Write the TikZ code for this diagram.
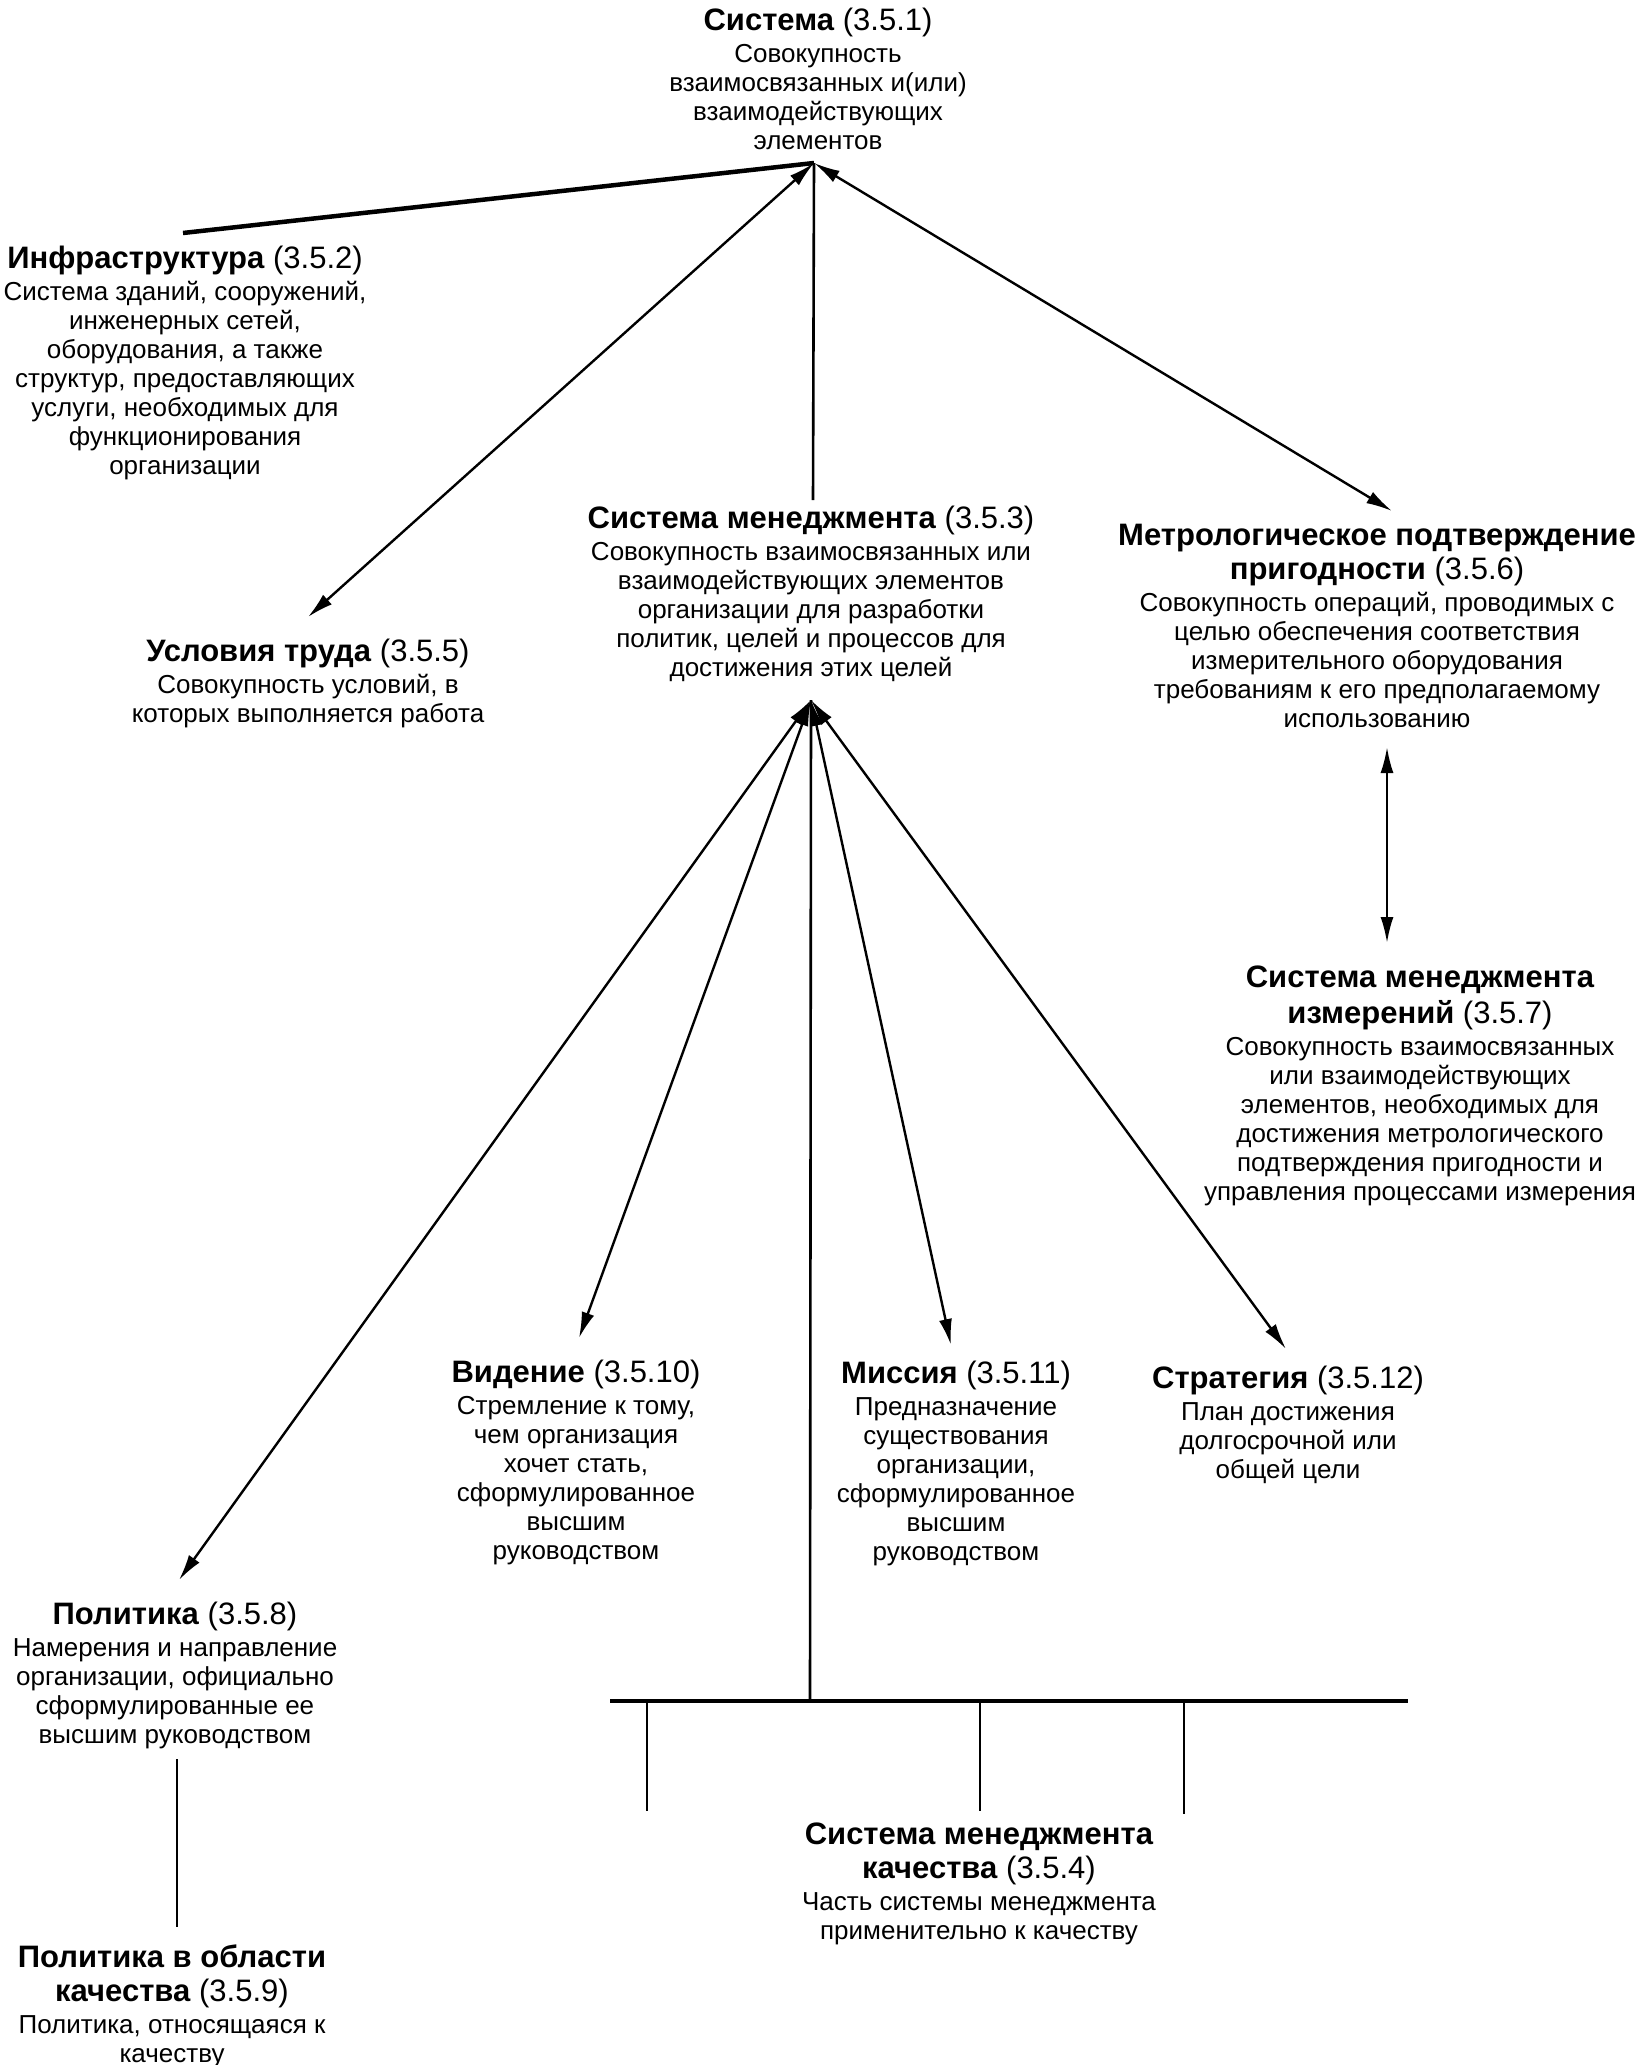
\documentclass[tikz,border=0pt]{standalone}
\usepackage{fontspec}
\setmainfont{Liberation Sans}
\usetikzlibrary{arrows.meta}
\newcommand\ttl[2]{{\fontsize{31}{34}\selectfont\textbf{#1}#2}}
\begin{document}
\begin{tikzpicture}[x=1pt,y=-1pt,
  txt/.style={anchor=north, inner sep=0pt, align=center, font=\fontsize{26}{29}\selectfont},
  ln/.style={line width=2.6pt},
  thick line/.style={line width=4.5pt},
  arr/.style={line width=2.4pt, -{Latex[length=26pt,width=13pt]}},
  darr/.style={line width=2.4pt, {Latex[length=26pt,width=13pt]}-{Latex[length=26pt,width=13pt]}},
]
\fill[white] (0,0) rectangle (1635,2065);
\useasboundingbox (0,0) rectangle (1635,2065);

\node[txt] (sys) at (818,8) {\ttl{Система}{ (3.5.1)}\\[3pt] Совокупность\\ взаимосвязанных и(или)\\ взаимодействующих\\ элементов};
\node[txt] (infra) at (185,246) {\ttl{Инфраструктура}{ (3.5.2)}\\[3pt] Система зданий, сооружений,\\ инженерных сетей,\\ оборудования, а также\\ структур, предоставляющих\\ услуги, необходимых для\\ функционирования\\ организации};
\node[txt] (usl) at (308,639) {\ttl{Условия труда}{ (3.5.5)}\\[3pt] Совокупность условий, в\\ которых выполняется работа};
\node[txt] (sm) at (811,506) {\ttl{Система менеджмента}{ (3.5.3)}\\[3pt] Совокупность взаимосвязанных или\\ взаимодействующих элементов\\ организации для разработки\\ политик, целей и процессов для\\ достижения этих целей};
\node[txt] (metr) at (1377,524) {\ttl{Метрологическое подтверждение}{}\\[5pt] \ttl{пригодности}{ (3.5.6)}\\[3pt] Совокупность операций, проводимых с\\ целью обеспечения соответствия\\ измерительного оборудования\\ требованиям к его предполагаемому\\ использованию};
\node[txt] (smi) at (1420,966) {\ttl{Система менеджмента}{}\\[5pt] \ttl{измерений}{ (3.5.7)}\\[3pt] Совокупность взаимосвязанных\\ или взаимодействующих\\ элементов, необходимых для\\ достижения метрологического\\ подтверждения пригодности и\\ управления процессами измерения};
\node[txt] (vid) at (576,1360) {\ttl{Видение}{ (3.5.10)}\\[3pt] Стремление к тому,\\ чем организация\\ хочет стать,\\ сформулированное\\ высшим\\ руководством};
\node[txt] (mis) at (956,1361) {\ttl{Миссия}{ (3.5.11)}\\[3pt] Предназначение\\ существования\\ организации,\\ сформулированное\\ высшим\\ руководством};
\node[txt] (str) at (1288,1366) {\ttl{Стратегия}{ (3.5.12)}\\[3pt] План достижения\\ долгосрочной или\\ общей цели};
\node[txt] (pol) at (175,1602) {\ttl{Политика}{ (3.5.8)}\\[3pt] Намерения и направление\\ организации, официально\\ сформулированные ее\\ высшим руководством};
\node[txt] (polq) at (172,1945) {\ttl{Политика в области}{}\\[5pt] \ttl{качества}{ (3.5.9)}\\[3pt] Политика, относящаяся к\\ качеству};
\node[txt] (smk) at (979,1823) {\ttl{Система менеджмента}{}\\[5pt] \ttl{качества}{ (3.5.4)}\\[3pt] Часть системы менеджмента\\ применительно к качеству};

% connector points
\coordinate (apexA) at (814,163);
\coordinate (apexB) at (811,700);
\coordinate (infraEnd) at (183,233);
\coordinate (uslEnd) at (308,617);
\coordinate (smTop) at (813,500);
\coordinate (metrEnd) at (1392,511);
\coordinate (metrBot) at (1387,747);
\coordinate (smiTop) at (1387,943);
\coordinate (polEnd) at (179,1580);
\coordinate (vidEnd) at (579,1338);
\coordinate (misEnd) at (951,1345);
\coordinate (strEnd) at (1286,1349);
\coordinate (barL) at (610,1701);
\coordinate (barR) at (1408,1701);
\coordinate (barC) at (810,1701);
\coordinate (d1t) at (647,1701); \coordinate (d1b) at (647,1811);
\coordinate (d2t) at (980,1701); \coordinate (d2b) at (980,1811);
\coordinate (d3t) at (1184,1701); \coordinate (d3b) at (1184,1814);
\coordinate (polBot) at (177,1759);
\coordinate (polqTop) at (177,1927);

\draw[thick line] (infraEnd) -- (apexA);
\draw[darr] (apexA) -- (uslEnd);
\draw[ln] (smTop) -- (apexA);
\draw[darr] (apexA) -- (metrEnd);
\draw[darr] (metrBot) -- (smiTop);

\draw[darr] (apexB) -- (polEnd);
\draw[darr] (apexB) -- (vidEnd);
\draw[darr] (apexB) -- (misEnd);
\draw[darr] (apexB) -- (strEnd);
\draw[ln] (apexB) -- (barC);
\draw[thick line] (barL) -- (barR);
\draw[ln] (d1t) -- (d1b);
\draw[ln] (d2t) -- (d2b);
\draw[ln] (d3t) -- (d3b);
\draw[ln] (polBot) -- (polqTop);
\end{tikzpicture}
\end{document}
